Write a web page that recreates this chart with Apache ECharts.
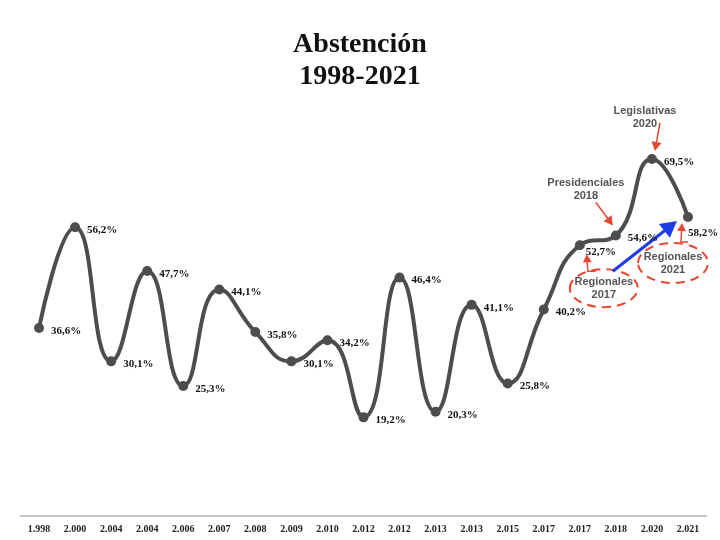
<!DOCTYPE html>
<html>
<head>
    <meta charset="utf-8">
    <title>Abstención 1998-2021</title>
    <script src="https://cdn.jsdelivr.net/npm/echarts@6/dist/echarts.min.js"></script>
    <style>
        html, body { margin: 0; padding: 0; background: #fff; }
        #main { width: 720px; height: 540px; }
    </style>
</head>
<body>
    <div id="main"></div>
    <script>
        // años (tal como aparecen en el eje)
        var years = ['1.998', '2.000', '2.004', '2.004', '2.006', '2.007', '2.008', '2.009', '2.010', '2.012',
                     '2.012', '2.013', '2.013', '2.015', '2.017', '2.017', '2.018', '2.020', '2.021'];
        // abstención %
        var abstencion = [36.6, 56.2, 30.1, 47.7, 25.3, 44.1, 35.8, 30.1, 34.2, 19.2,
                          46.4, 20.3, 41.1, 25.8, 40.2, 52.7, 54.6, 69.5, 58.2];
        // notas
        var notas = [
            { idx: 17, text: 'Legislativas\n2020' },
            { idx: 16, text: 'Presidenciales\n2018' },
            { idx: 15, text: 'Regionales\n2017' },
            { idx: 18, text: 'Regionales\n2021' }
        ];

        var RED = '#e8462e';
        var BLUE = '#1e3ce6';

        var chart = echarts.init(document.getElementById('main'));

        var seriesData = abstencion.map(function (v, i) {
            var d = { value: v };
            if (i === 15) d.label = { position: 'right', offset: [-6, 7] };
            if (i === 18) d.label = { position: 'right', offset: [-12, 16] };
            return d;
        });

        chart.setOption({
            backgroundColor: '#fff',
            animation: false,
            title: {
                text: 'Abstención\n1998-2021',
                left: 'center',
                top: 24,
                textStyle: {
                    fontFamily: 'Liberation Serif',
                    fontWeight: 'bold',
                    fontSize: 28,
                    lineHeight: 32,
                    color: '#111'
                }
            },
            grid: { left: 21, right: 14, top: 105, bottom: 24 },
            xAxis: {
                type: 'category',
                data: years,
                boundaryGap: true,
                axisLine: { lineStyle: { color: '#c4c4c4', width: 2 } },
                axisTick: { show: false },
                axisLabel: {
                    interval: 0,
                    margin: 8,
                    fontFamily: 'Liberation Serif',
                    fontWeight: 'bold',
                    fontSize: 10,
                    color: '#222'
                },
                splitLine: { show: false }
            },
            yAxis: {
                type: 'value',
                min: 0,
                max: 80,
                show: false
            },
            series: [{
                type: 'line',
                data: seriesData,
                smooth: 0.5,
                symbol: 'circle',
                symbolSize: 10,
                lineStyle: { color: '#4d4d4d', width: 4 },
                itemStyle: { color: '#4d4d4d' },
                label: {
                    show: true,
                    position: 'right',
                    distance: 7,
                    offset: [0, 3],
                    fontFamily: 'Liberation Serif',
                    fontWeight: 'bold',
                    fontSize: 11,
                    color: '#111',
                    formatter: function (p) {
                        return p.value.toFixed(1).replace('.', ',') + '%';
                    }
                }
            }]
        });

        // anotaciones relativas a los puntos
        function pt(i) {
            return chart.convertToPixel({ seriesIndex: 0 }, [i, abstencion[i]]);
        }

        function arrow(pts, color, width, head) {
            var n = pts.length;
            var x1 = pts[n - 2][0], y1 = pts[n - 2][1], x2 = pts[n - 1][0], y2 = pts[n - 1][1];
            var a = Math.atan2(y2 - y1, x2 - x1);
            var bx = x2 - head * Math.cos(a), by = y2 - head * Math.sin(a);
            var w = head * 0.55;
            var line = pts.slice(0, n - 1).concat([[bx + 1 * Math.cos(a), by + 1 * Math.sin(a)]]);
            return [{
                type: 'polyline',
                shape: { points: line },
                style: { stroke: color, lineWidth: width, fill: null }
            }, {
                type: 'polygon',
                shape: {
                    points: [
                        [x2, y2],
                        [bx - w * Math.sin(a), by + w * Math.cos(a)],
                        [bx + w * Math.sin(a), by - w * Math.cos(a)]
                    ]
                },
                style: { fill: color }
            }];
        }

        function nota(cx, cy, text) {
            return {
                type: 'text',
                x: cx,
                y: cy,
                style: {
                    text: text,
                    align: 'center',
                    verticalAlign: 'middle',
                    fontFamily: 'Liberation Sans',
                    fontWeight: 'bold',
                    fontSize: 11,
                    lineHeight: 13,
                    fill: '#555'
                }
            };
        }

        function elipse(cx, cy, rx, ry) {
            return {
                type: 'ellipse',
                shape: { cx: cx, cy: cy, rx: rx, ry: ry },
                style: { fill: null, stroke: RED, lineWidth: 2, lineDash: [9, 6] }
            };
        }

        var p15 = pt(15), p16 = pt(16), p17 = pt(17), p18 = pt(18);
        var g = [];

        // Legislativas 2020
        g.push(nota(p17[0] - 7, p17[1] - 41, notas[0].text));
        g = g.concat(arrow([[p17[0] + 8, p17[1] - 36], [p17[0] + 3, p17[1] - 8]], RED, 1.5, 9));

        // Presidenciales 2018
        g.push(nota(p16[0] - 30, p16[1] - 46, notas[1].text));
        g = g.concat(arrow([[p16[0] - 20, p16[1] - 33], [p16[0] - 3, p16[1] - 10]], RED, 1.5, 9));

        // Regionales 2017
        g.push(elipse(p15[0] + 24, p15[1] + 43, 34, 19));
        g.push(nota(p15[0] + 24, p15[1] + 43, notas[2].text));
        g = g.concat(arrow([[p15[0] + 16, p15[1] + 26], [p15[0] + 8, p15[1] + 26], [p15[0] + 7, p15[1] + 9]], RED, 1.5, 8));

        // Regionales 2021
        g.push(elipse(p18[0] - 15, p18[1] + 46, 35, 20));
        g.push(nota(p18[0] - 15, p18[1] + 46, notas[3].text));
        g = g.concat(arrow([[p18[0], p18[1] + 25], [p18[0] - 7, p18[1] + 25], [p18[0] - 6, p18[1] + 6]], RED, 1.5, 8));

        // flecha azul
        g = g.concat(arrow([[p15[0] + 33, p15[1] + 26], [p18[0] - 11, p18[1] + 4]], BLUE, 3, 16));

        chart.setOption({ graphic: { elements: g } });
    </script>
</body>
</html>
